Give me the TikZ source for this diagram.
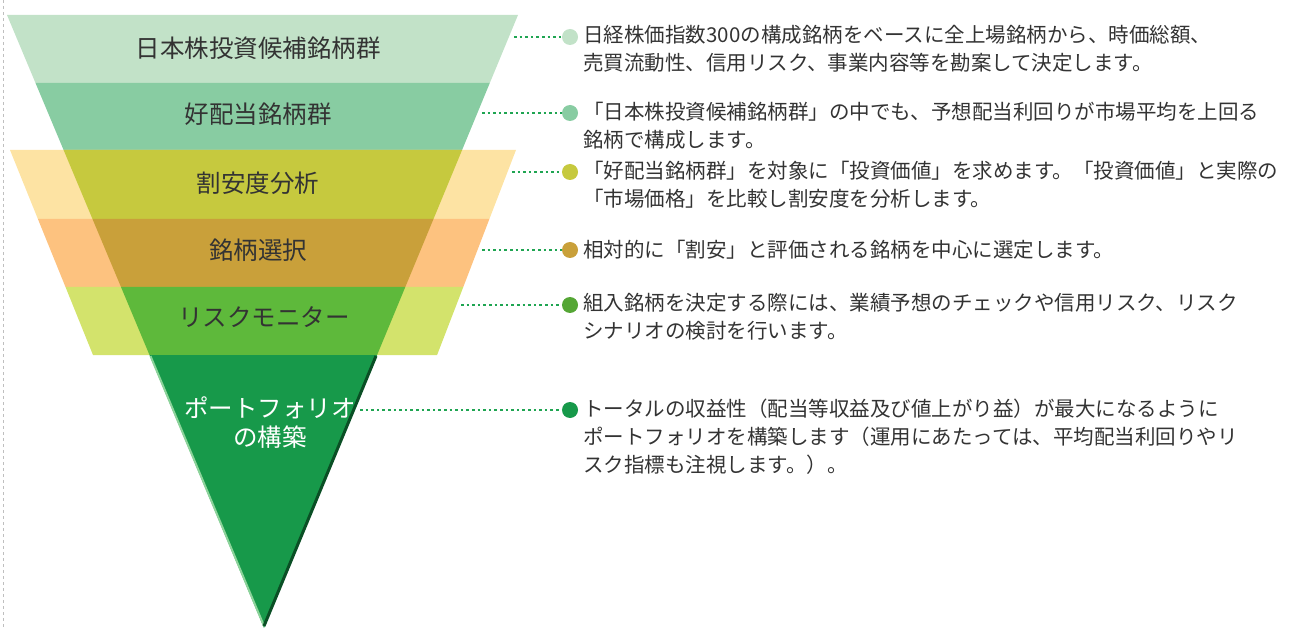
\documentclass[tikz,border=0pt]{standalone}
\usepackage{fontspec}
\setmainfont{Noto Sans CJK JP}
\definecolor{InkGray}{HTML}{333333}
\definecolor{PaleMint}{HTML}{C2E2C8}
\definecolor{MidMint}{HTML}{88CCA2}
\definecolor{PalePeach}{HTML}{FDE3A3}
\definecolor{OliveMix}{HTML}{C6C93E}
\definecolor{SoftOrange}{HTML}{FDC27F}
\definecolor{GoldMix}{HTML}{C9A03A}
\definecolor{LimeLight}{HTML}{D3E36C}
\definecolor{LeafGreen}{HTML}{5EB93B}
\definecolor{DeepGreen}{HTML}{17994A}
\definecolor{ShadeGreen}{HTML}{0A4F25}
\definecolor{EdgeGreen}{HTML}{8CD39A}
\definecolor{DotGreen}{HTML}{1FA552}
\usepackage{tikz}

\begin{document}
\begin{tikzpicture}[x=1pt,y=-1pt,
    stage/.style={text=InkGray,font=\fontsize{24.5}{29}\selectfont,align=center},
    bullet/.style={circle,minimum size=16pt,inner sep=0pt},
    desc/.style={text=InkGray,font=\fontsize{20.5}{28}\selectfont,
                 align=left,anchor=north west,inner sep=0pt,
                 execute at begin node=\rule{0pt}{19pt}},
    dotline/.style={DotGreen,line width=2.8pt,dash pattern=on 2.6pt off 3pt}]
  \useasboundingbox (0,0) rectangle (1293,628);
  \draw[gray!50,dashed,line width=0.6pt] (3,0) -- (3,628);

  % upper funnel
  \fill[PaleMint] (7,15) -- (518,15) -- (489.8,83) -- (35.5,83) -- cycle;
  \fill[MidMint] (35.5,83) -- (489.8,83) -- (462.1,150) -- (63.6,150) -- cycle;
  % wide overlay
  \fill[PalePeach] (10,150) -- (516,150) -- (489.4,219) -- (37.9,219) -- cycle;
  \fill[SoftOrange] (37.9,219) -- (489.4,219) -- (463.3,287) -- (65.5,287) -- cycle;
  \fill[LimeLight] (65.5,287) -- (463.3,287) -- (437.1,355) -- (93,355) -- cycle;
  \fill[OliveMix] (63.6,150) -- (462.1,150) -- (433.5,219) -- (92.5,219) -- cycle;
  \fill[GoldMix] (92.5,219) -- (433.5,219) -- (405.3,287) -- (121,287) -- cycle;
  \fill[LeafGreen] (121,287) -- (405.3,287) -- (377.1,355) -- (149.5,355) -- cycle;
  % tip
  \fill[DeepGreen] (149.5,355) -- (377.1,355) -- (264,628) -- cycle;
  \draw[EdgeGreen,line width=2pt] (150.5,356) -- (264,626);
  \draw[ShadeGreen,line width=3pt] (376,356) -- (264,626);

  \node[stage] (s1) at (258,48) {日本株投資候補銘柄群};
  \node[stage] (s2) at (258,114) {好配当銘柄群};
  \node[stage] (s3) at (258,183) {割安度分析};
  \node[stage] (s4) at (258,250) {銘柄選択};
  \node[stage] (s5) at (264,317) {リスクモニター};
  \node[stage,text=white] (s6) at (270,423) {ポートフォリオ\\の構築};

  \node[bullet,fill=PaleMint] (b1) at (570,37) {};
  \node[bullet,fill=MidMint] (b2) at (570,113) {};
  \node[bullet,fill=OliveMix] (b3) at (570,172) {};
  \node[bullet,fill=GoldMix] (b4) at (570,250) {};
  \node[bullet,fill=LeafGreen!90!black] (b5) at (570,305) {};
  \node[bullet,fill=DeepGreen] (b6) at (570,410) {};

  \coordinate (e1) at (514,37);
  \coordinate (e2) at (482,113);
  \coordinate (e3) at (512,172);
  \coordinate (e4) at (482,250);
  \coordinate (e5) at (461,305);
  \coordinate (e6) at (360,410);
  \draw[dotline] (e1) -- (b1);
  \draw[dotline] (e2) -- (b2);
  \draw[dotline] (e3) -- (b3);
  \draw[dotline] (e4) -- (b4);
  \draw[dotline] (e5) -- (b5);
  \draw[dotline] (e6) -- (b6);

  \node[desc] (t1) at ([xshift=5pt,yshift=11.5pt]b1.east)
    {日経株価指数300の構成銘柄をベースに全上場銘柄から、時価総額、\\
     売買流動性、信用リスク、事業内容等を勘案して決定します。};
  \node[desc] (t2) at ([xshift=5pt,yshift=11.5pt]b2.east)
    {「日本株投資候補銘柄群」の中でも、予想配当利回りが市場平均を上回る\\
     銘柄で構成します。};
  \node[desc] (t3) at ([xshift=5pt,yshift=11.5pt]b3.east)
    {「好配当銘柄群」を対象に「投資価値」を求めます。「投資価値」と実際の\\
     「市場価格」を比較し割安度を分析します。};
  \node[desc] (t4) at ([xshift=5pt,yshift=11.5pt]b4.east)
    {相対的に「割安」と評価される銘柄を中心に選定します。};
  \node[desc] (t5) at ([xshift=5pt,yshift=11.5pt]b5.east)
    {組入銘柄を決定する際には、業績予想のチェックや信用リスク、リスク\\
     シナリオの検討を行います。};
  \node[desc] (t6) at ([xshift=5pt,yshift=11.5pt]b6.east)
    {トータルの収益性（配当等収益及び値上がり益）が最大になるように\\
     ポートフォリオを構築します（運用にあたっては、平均配当利回りやリ\\
     スク指標も注視します。）。};
\end{tikzpicture}
\end{document}
